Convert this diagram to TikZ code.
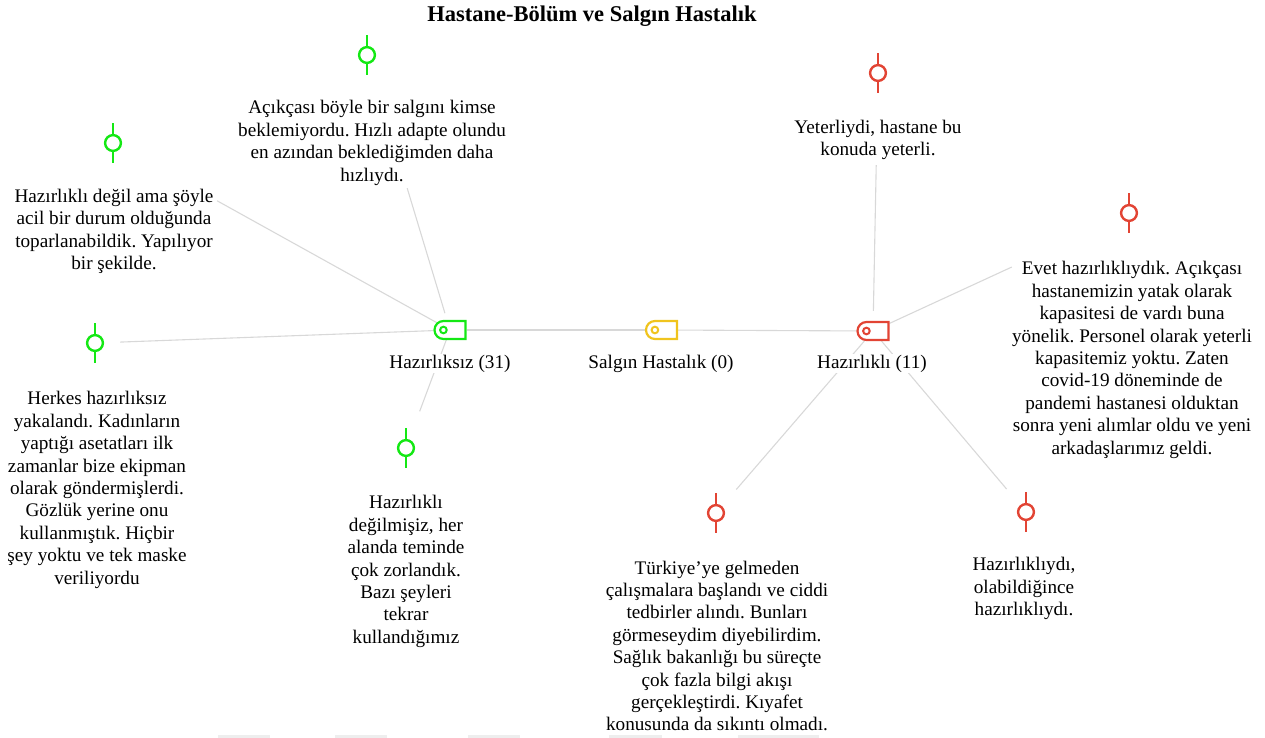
\documentclass[tikz,border=0pt]{standalone}
\usepackage{fontspec}
\setmainfont{Liberation Serif}
\usetikzlibrary{shapes.misc,backgrounds}
\definecolor{cgreen}{RGB}{20,232,20}
\definecolor{cred}{RGB}{226,68,52}
\definecolor{cyellow}{RGB}{240,196,30}
\definecolor{cedge}{RGB}{216,216,216}
\definecolor{cbar}{RGB}{238,238,238}
\frenchspacing
\begin{document}
\begin{tikzpicture}[x=1pt,y=-1pt,
  txt/.style={align=center, font=\fontsize{19.2}{22.4}\selectfont, inner sep=1pt, yshift=-2.5pt},
  hublabel/.style={txt, fill=white},
  commit/.style={circle, draw=#1, line width=2.4pt, fill=white, minimum size=15.8pt, inner sep=0pt},
  stem/.style={draw=#1, line width=2.4pt},
  tagicon/.style={rounded rectangle, rounded rectangle right arc=none, draw=#1, line width=2.2pt, fill=white, minimum width=31pt, minimum height=18pt, inner sep=0pt},
  hole/.style={draw=#1, line width=2pt},
  edge/.style={draw=cedge, line width=1.1pt}]
\useasboundingbox (0,0) rectangle (1265,738);

% title
\node[font=\bfseries\fontsize{22.5}{26}\selectfont] (title) at (592,16.5) {Hastane-Bölüm ve Salgın Hastalık};

% hubs
\node[tagicon=cgreen] (h1) at (450,330) {};
\node[tagicon=cyellow] (h0) at (661.5,330) {};
\node[tagicon=cred] (h2) at (873,331) {};
\draw[hole=cgreen] ([xshift=10pt]h1.west) circle (3.3);
\draw[hole=cyellow] ([xshift=10pt]h0.west) circle (3.3);
\draw[hole=cred] ([xshift=10pt]h2.west) circle (3.3);
\node[hublabel] (l1) at (450,361) {Hazırlıksız (31)};
\node[hublabel] (l0) at (661,361) {Salgın Hastalık (0)};
\node[hublabel] (l2) at (872,361) {Hazırlıklı (11)};

% leaf icons
\foreach \n/\c/\x/\y in {g1/cgreen/367/55, g2/cgreen/113/143, g3/cgreen/95/343, g4/cgreen/406/448,
                         r1/cred/878/73, r2/cred/1129/213, r3/cred/716/513, r4/cred/1026/512}{
  \node[commit=\c] (\n) at (\x,\y) {};
  \draw[stem=\c] (\n.north) -- ++(0,-10.5);
  \draw[stem=\c] (\n.south) -- ++(0,10.5);
}

% leaf texts
\node[txt] (tg1) at (372,140.5) {Açıkçası böyle bir salgını kimse\\beklemiyordu. Hızlı adapte olundu\\en azından beklediğimden daha\\hızlıydı.};
\node[txt] (tg2) at (114,229) {Hazırlıklı değil ama şöyle\\acil bir durum olduğunda\\toparlanabildik. Yapılıyor\\bir şekilde.};
\node[txt] (tg3) at (97,487.5) {Herkes hazırlıksız\\yakalandı. Kadınların\\yaptığı asetatları ilk\\zamanlar bize ekipman\\olarak göndermişlerdi.\\Gözlük yerine onu\\kullanmıştık. Hiçbir\\şey yoktu ve tek maske\\veriliyordu};
\node[txt] (tg4) at (406,569) {Hazırlıklı\\değilmişiz, her\\alanda teminde\\çok zorlandık.\\Bazı şeyleri\\tekrar\\kullandığımız};
\node[txt] (tr1) at (878,137.5) {Yeterliydi, hastane bu\\konuda yeterli.};
\node[txt] (tr2) at (1132,357.5) {Evet hazırlıklıydık. Açıkçası\\hastanemizin yatak olarak\\kapasitesi de vardı buna\\yönelik. Personel olarak yeterli\\kapasitemiz yoktu. Zaten\\covid-19 döneminde de\\pandemi hastanesi olduktan\\sonra yeni alımlar oldu ve yeni\\arkadaşlarımız geldi.};
\node[txt] (tr3) at (717,643.5) {Türkiye’ye gelmeden\\çalışmalara başlandı ve ciddi\\tedbirler alındı. Bunları\\görmeseydim diyebilirdim.\\Sağlık bakanlığı bu süreçte\\çok fazla bilgi akışı\\gerçekleştirdi. Kıyafet\\konusunda da sıkıntı olmadı.};
\node[txt] (tr4) at (1024,586) {Hazırlıklıydı,\\olabildiğince\\hazırlıklıydı.};

% connectors
\begin{scope}[on background layer]
\draw[edge] (h1) -- (h0);
\draw[edge] (h0) -- (h2);
\draw[edge, shorten <=7pt, shorten >=130pt] (h1) -- (g1);
\draw[edge, shorten >=110pt] (h1) -- (g2);
\draw[edge, shorten >=16pt] (h1) -- (g3);
\draw[edge, shorten >=30pt] (h1.center) -- (g4);
\draw[edge, shorten <=10pt, shorten >=83pt] (h2) -- (r1);
\draw[edge, shorten >=120pt] (h2) -- (r2);
\draw[edge, shorten >=22pt] (h2.center) -- (r3);
\draw[edge, shorten >=21pt] (h2.center) -- (r4);
\end{scope}

% faint bars at the bottom edge
\foreach \a/\b in {218/270, 335/387, 468/520, 609/662, 738/819}{
  \fill[cbar] (\a,734.5) rectangle (\b,738);
}
\end{tikzpicture}
\end{document}
